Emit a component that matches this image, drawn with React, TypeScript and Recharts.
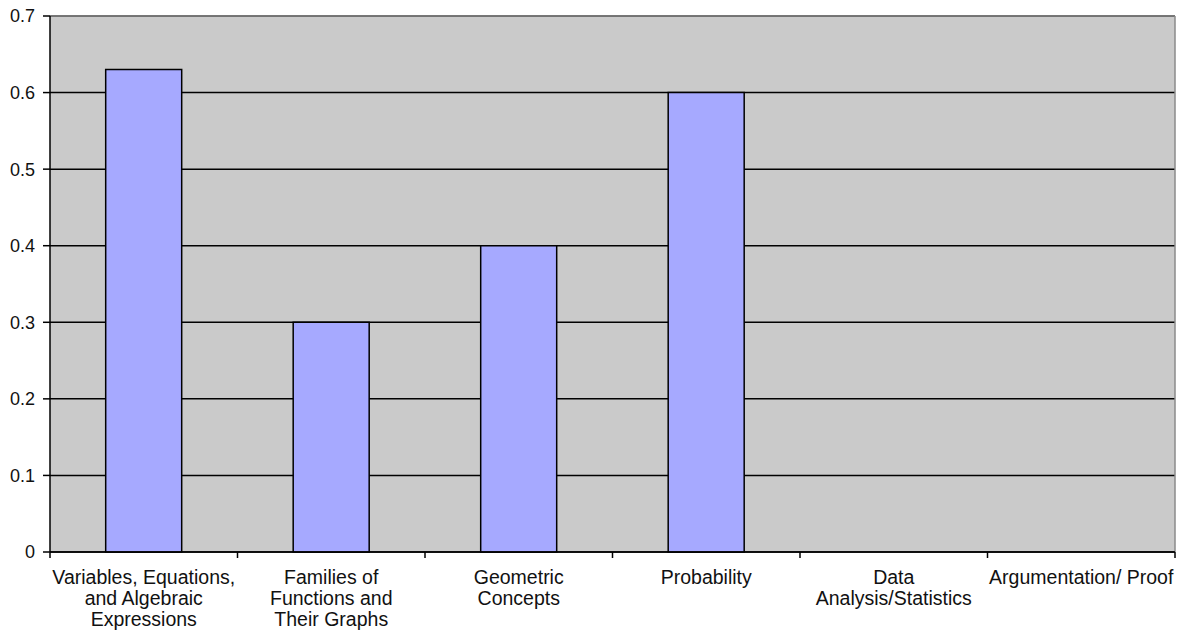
import React from 'react';
import { BarChart, Bar, XAxis, YAxis, CartesianGrid, ReferenceLine } from 'recharts';

// Content strands and the share of items in each
const categories = [
  'Variables, Equations, and Algebraic Expressions',
  'Families of Functions and Their Graphs',
  'Geometric Concepts',
  'Probability',
  'Data Analysis/Statistics',
  'Argumentation/ Proof',
];
const values = [0.63, 0.3, 0.4, 0.6, 0, 0];

// How each category label breaks onto lines under the axis
const categoryLines = [
  ['Variables, Equations,', 'and Algebraic', 'Expressions'],
  ['Families of', 'Functions and', 'Their Graphs'],
  ['Geometric', 'Concepts'],
  ['Probability'],
  ['Data', 'Analysis/Statistics'],
  ['Argumentation/ Proof'],
];

const yTicks = [0, 0.1, 0.2, 0.3, 0.4, 0.5, 0.6, 0.7];

const data = categories.map((name, i) => ({ name, value: values[i] }));

const WIDTH = 1193;
const HEIGHT = 634;
const MARGIN = { top: 16, right: 18, left: 0, bottom: 12 };
const Y_AXIS_WIDTH = 50;
const PLOT_WIDTH = WIDTH - MARGIN.left - MARGIN.right - Y_AXIS_WIDTH;
const HALF_BAND = PLOT_WIDTH / categories.length / 2;
const FONT = '"Liberation Sans", Arial, sans-serif';

const CategoryTick = (props: any) => {
  const { x, y, index, payload } = props;
  const idx = typeof index === 'number' ? index : categories.indexOf(payload.value);
  const lines = categoryLines[idx] || [String(payload.value)];
  const axisY = y - 8;
  return (
    <g>
      <line x1={x - HALF_BAND} y1={axisY} x2={x - HALF_BAND} y2={axisY + 6} stroke="#000" strokeWidth={1.5} />
      {idx === categories.length - 1 && (
        <line x1={x + HALF_BAND} y1={axisY} x2={x + HALF_BAND} y2={axisY + 6} stroke="#000" strokeWidth={1.5} />
      )}
      <text x={x} y={axisY} textAnchor="middle" fill="#111" fontFamily={FONT} fontSize={19.5}>
        {lines.map((line: string, i: number) => (
          <tspan key={i} x={x} y={axisY + 32 + i * 21}>
            {line}
          </tspan>
        ))}
      </text>
    </g>
  );
};

export default function App() {
  return (
    <div style={{ position: 'absolute', left: 0, top: 0, width: WIDTH, height: HEIGHT, background: '#fff' }}>
      <BarChart width={WIDTH} height={HEIGHT} data={data} margin={MARGIN} barCategoryGap="29.7%">
        <CartesianGrid
          vertical={false}
          stroke="#000"
          strokeWidth={1.5}
          fill="#cacaca"
          fillOpacity={1}
        />
        <CartesianGrid
          horizontal={false}
          stroke="#8a8a8a"
          strokeWidth={1.5}
          verticalCoordinatesGenerator={({ offset }: any) => [offset.left + offset.width]}
        />
        <ReferenceLine y={0.7} stroke="#8a8a8a" strokeWidth={1.5} />
        <XAxis
          dataKey="name"
          interval={0}
          height={70}
          tickLine={false}
          axisLine={{ stroke: '#000', strokeWidth: 1.5 }}
          tick={<CategoryTick />}
        />
        <YAxis
          width={Y_AXIS_WIDTH}
          domain={[0, 0.7]}
          ticks={yTicks}
          interval={0}
          tickSize={7}
          tickMargin={8}
          tickFormatter={(v: number) => (v === 0 ? '0' : String(v))}
          tickLine={{ stroke: '#000', strokeWidth: 1.5 }}
          axisLine={{ stroke: '#000', strokeWidth: 1.5 }}
          tick={{ fill: '#111', fontFamily: FONT, fontSize: 18 }}
        />
        <Bar dataKey="value" fill="#a6a9ff" stroke="#000" strokeWidth={1.5} isAnimationActive={false} />
      </BarChart>
    </div>
  );
}
